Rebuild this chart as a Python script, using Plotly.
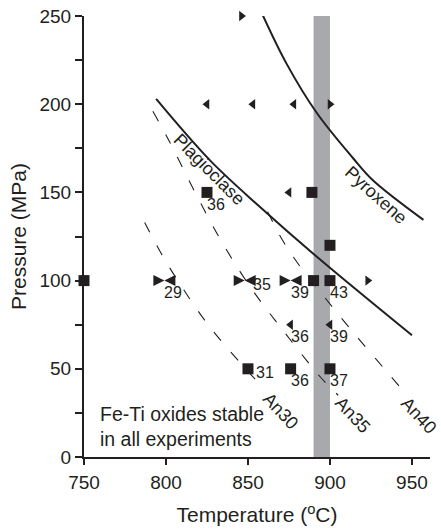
import plotly.graph_objects as go

# ---- experimental run conditions (temperature in degC, pressure in MPa) ----
# filled squares
sq_T = [750, 825, 889, 900, 890, 900, 850, 876, 900]
sq_P = [100, 150, 150, 120, 100, 100, 50, 50, 50]
# left-pointing triangles
tl_T = [825, 853, 878, 875, 876, 900]
tl_P = [200, 200, 200, 150, 75, 75]
# right-pointing triangles
tr_T = [846, 900, 923]
tr_P = [250, 200, 100]
# bow-ties (both directions)
bt_T = [799, 848, 876]
bt_P = [100, 100, 100]

# anorthite contents written next to runs
lab_T = [825, 799, 848, 876, 900, 876, 900, 850, 876, 900]
lab_P = [150, 100, 100, 100, 100, 75, 75, 50, 50, 50]
lab_txt = ["36", "29", "35", "39", "43", "36", "39", "31", "36", "37"]
lab_side = ["below", "below", "right", "below", "below",
            "below", "below", "right", "below", "below"]

# ---- phase-in curves ----
plag_T = [794, 827, 857, 892, 950]
plag_P = [203, 168, 142, 113.5, 69]
pyx_T = [859, 873.5, 892, 914, 926, 957]
pyx_P = [250.5, 223, 195, 169.5, 157, 134.4]

# ---- plagioclase composition isopleths ----
an30_T = [787, 797, 806, 825, 846, 860]
an30_P = [133, 115.5, 101.7, 75.8, 52.7, 38.5]
an35_T = [792, 802, 818, 834, 852, 872, 894, 905]
an35_P = [196, 179, 149.5, 122, 95.6, 71, 45.5, 35]
an40_T = [862, 871, 881, 892, 913, 935, 947]
an40_P = [139, 123, 109, 96, 72, 48, 35]

# tick labels
x_ticks = [750, 800, 850, 900, 950]
y_ticks = [0, 50, 100, 150, 200, 250]
y_ticktext = ["0", "50", "100", "150", "200", "250"]

INK = "#231f20"
FONT = "Liberation Sans, Arial, Helvetica, sans-serif"

fig = go.Figure()

# solid phase boundaries
for T, P in [(plag_T, plag_P), (pyx_T, pyx_P)]:
    fig.add_trace(go.Scatter(x=T, y=P, mode="lines",
                             line=dict(color=INK, width=2, shape="spline", smoothing=1.0),
                             hoverinfo="skip"))

# dashed An isopleths
for T, P in [(an30_T, an30_P), (an35_T, an35_P), (an40_T, an40_P)]:
    fig.add_trace(go.Scatter(x=T, y=P, mode="lines",
                             line=dict(color=INK, width=1.1, dash="11px,15px",
                                       shape="spline", smoothing=1.0),
                             hoverinfo="skip"))

marker_common = dict(color=INK, line=dict(width=0))
fig.add_trace(go.Scatter(x=sq_T, y=sq_P, mode="markers", cliponaxis=False,
                         marker=dict(symbol="square", size=11, **marker_common)))
fig.add_trace(go.Scatter(x=tl_T, y=tl_P, mode="markers", cliponaxis=False,
                         marker=dict(symbol="triangle-left", size=9, **marker_common)))
fig.add_trace(go.Scatter(x=tr_T, y=tr_P, mode="markers", cliponaxis=False,
                         marker=dict(symbol="triangle-right", size=9, **marker_common)))
# bow-tie: two arrow heads meeting at the run condition
fig.add_trace(go.Scatter(x=bt_T, y=bt_P, mode="markers", cliponaxis=False,
                         marker=dict(symbol="arrow-right", size=11, **marker_common)))
fig.add_trace(go.Scatter(x=bt_T, y=bt_P, mode="markers", cliponaxis=False,
                         marker=dict(symbol="arrow-left", size=11, **marker_common)))

# grey band of the natural temperature window
fig.add_shape(type="rect", xref="x", yref="y", x0=890, x1=900, y0=0, y1=251,
              fillcolor="#a7a9ac", line=dict(width=0), layer="below")

annotations = []
offsets = {"below": (9, -12), "right": (17, -4)}
for T, P, t, side in zip(lab_T, lab_P, lab_txt, lab_side):
    dx, dy = offsets[side]
    annotations.append(dict(x=T, y=P, text=t, showarrow=False, xanchor="center",
                            yanchor="middle", xshift=dx, yshift=dy,
                            font=dict(size=16, color=INK, family=FONT)))

curve_labels = [
    ("Plagioclase", 826, 163, 45),
    ("Pyroxene", 928, 148.5, 42),
    ("An30", 870, 26.3, 47),
    ("An35", 914, 24, 47),
    ("An40", 954.5, 23.5, 47),
]
for txt, x, y, ang in curve_labels:
    annotations.append(dict(x=x, y=y, text=txt, showarrow=False, textangle=ang,
                            xanchor="center", yanchor="middle",
                            font=dict(size=18, color=INK, family=FONT)))

annotations.append(dict(x=758.5, y=17.3, text="Fe-Ti oxides stable<br>in all experiments",
                        showarrow=False, xanchor="left", yanchor="middle", align="left",
                        font=dict(size=19.5, color=INK, family=FONT)))

tick_style = dict(ticks="outside", tickwidth=1.5, tickcolor=INK, showline=True,
                  linewidth=2, linecolor=INK, showgrid=False, zeroline=False,
                  tickfont=dict(size=19), automargin=False)

fig.update_layout(
    width=441, height=530,
    margin=dict(l=84, r=11, t=16, b=73),
    plot_bgcolor="white", paper_bgcolor="white",
    showlegend=False,
    font=dict(family=FONT, size=18, color=INK),
    annotations=annotations,
    xaxis=dict(range=[750, 961], tickvals=x_ticks, ticklen=6, ticklabelstandoff=1,
               title=dict(text="Temperature (<sup>o</sup>C)", font=dict(size=21), standoff=16),
               **tick_style),
    yaxis=dict(range=[0, 250], tickvals=y_ticks, ticktext=y_ticktext, ticklen=7,
               minor=dict(dtick=25, ticks="outside", ticklen=7, tickwidth=1.5,
                          tickcolor=INK, showgrid=False),
               title=dict(text="Pressure (MPa)", font=dict(size=21), standoff=7),
               **tick_style),
)

fig.write_html("out.html")
